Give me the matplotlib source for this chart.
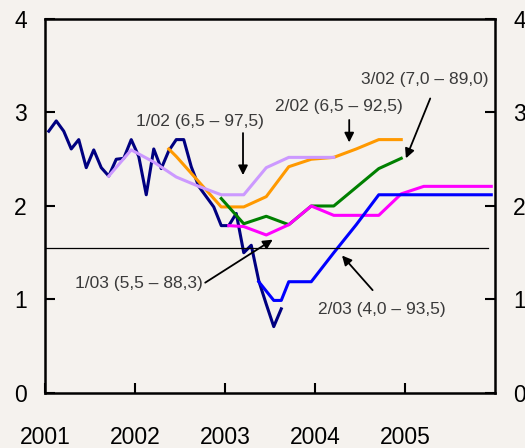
import numpy as np
import matplotlib
matplotlib.use('Agg')
import matplotlib.pyplot as plt

bg = '#f5f2ee'
params = {
    'font.family'       : ['Liberation Sans', 'DejaVu Sans'],
    'font.size'         : 13,
    'xtick.direction'   : 'in',
    'ytick.direction'   : 'in',
    'figure.facecolor'  : bg,
    'axes.facecolor'    : bg,
}
plt.rcParams.update(params)

# actual data, monthly from Jan 2001
actual = [2.80, 2.91, 2.80, 2.61, 2.71, 2.41, 2.60, 2.41, 2.32, 2.50, 2.51, 2.71,
          2.53, 2.12, 2.61, 2.40, 2.59, 2.71, 2.71, 2.42, 2.21, 2.10, 1.99, 1.79,
          1.79, 1.92, 1.50, 1.58, 1.20, 0.95, 0.71, 0.90]

# forecasts: month index (0 = Jan 2001) and value
f102_m = [8, 11, 14, 17, 20, 23, 26, 29, 32, 35, 38]
f102_v = [2.32, 2.60, 2.47, 2.31, 2.21, 2.12, 2.12, 2.41, 2.52, 2.52, 2.52]

f202_m = [16, 17, 20, 23, 26, 29, 32, 35, 38, 41, 44, 47]
f202_v = [2.61, 2.53, 2.26, 1.99, 1.99, 2.10, 2.42, 2.50, 2.52, 2.61, 2.71, 2.71]

f302_m = [23, 26, 29, 32, 35, 38, 41, 44, 47]
f302_v = [2.08, 1.81, 1.89, 1.80, 2.00, 2.00, 2.20, 2.40, 2.51]

f103_m = [24, 26, 29, 32, 35, 38, 41, 44, 47, 50, 53, 56, 59]
f103_v = [1.79, 1.78, 1.69, 1.80, 2.00, 1.90, 1.90, 1.90, 2.13, 2.21, 2.21, 2.21, 2.21]

f203_m = [28, 30, 31, 32, 35, 38, 41, 44, 47, 50, 53, 56, 59]
f203_v = [1.19, 0.99, 0.99, 1.19, 1.19, 1.50, 1.80, 2.12, 2.12, 2.12, 2.12, 2.12, 2.12]

target = 1.55
years = [2001, 2002, 2003, 2004, 2005]
yticks = [0, 1, 2, 3, 4]


def to_year(m):
    return 2001 + (np.asarray(m) + 0.5) / 12.


fig = plt.figure(figsize=(5.25, 4.48), dpi=100)
ax = fig.add_axes([0.0857, 0.1228, 0.8572, 0.8348])

lw = 2.2
ax.plot(to_year(np.arange(len(actual))), actual, color='#000080', lw=lw)
ax.plot(to_year(f202_m), f202_v, color='#ff9900', lw=lw)
ax.plot(to_year(f102_m), f102_v, color='#cc99ff', lw=lw)
ax.plot(to_year(f302_m), f302_v, color='#008000', lw=lw)
ax.plot(to_year(f103_m), f103_v, color='#ff00ff', lw=lw)
ax.plot(to_year(f203_m), f203_v, color='#0000ff', lw=lw)

ax.plot([2001, 2005.92], [target, target], color='black', lw=0.9)

ax.set_xlim(2001, 2006)
ax.set_ylim(0, 4)
ax.set_xticks(years)
ax.set_xticklabels([str(y) for y in years])
ax.set_yticks(yticks)
ax.tick_params(axis='both', labelsize=16.5, length=7, width=1.5, color='black')
ax.tick_params(axis='x', pad=24)
ax.tick_params(axis='y', pad=13, right=True, labelright=True)
for s in ax.spines.values():
    s.set_linewidth(1.8)

# labels + arrows
tc = '#3a3a3a'
ap = dict(arrowstyle='-|>', color='black', lw=1.3, mutation_scale=14, shrinkA=0, shrinkB=0)
notes = [
    ('1/02 (6,5 – 97,5)', (2002.72, 2.90), (2003.20, 2.78), (2003.20, 2.33)),
    ('2/02 (6,5 – 92,5)', (2004.27, 3.06), (2004.38, 2.92), (2004.38, 2.68)),
    ('3/02 (7,0 – 89,0)', (2005.22, 3.35), (2005.28, 3.15), (2005.01, 2.51)),
    ('1/03 (5,5 – 88,3)', (2002.04, 1.17), (2002.78, 1.18), (2003.53, 1.64)),
    ('2/03 (4,0 – 93,5)', (2004.74, 0.89), (2004.64, 1.10), (2004.30, 1.47)),
]
for txt, pos, tail, tip in notes:
    ax.text(pos[0], pos[1], txt, ha='center', va='center', color=tc, fontsize=12.5)
    ax.annotate('', xy=tip, xytext=tail, arrowprops=ap)

plt.savefig('out.png', dpi=100, facecolor=bg)
